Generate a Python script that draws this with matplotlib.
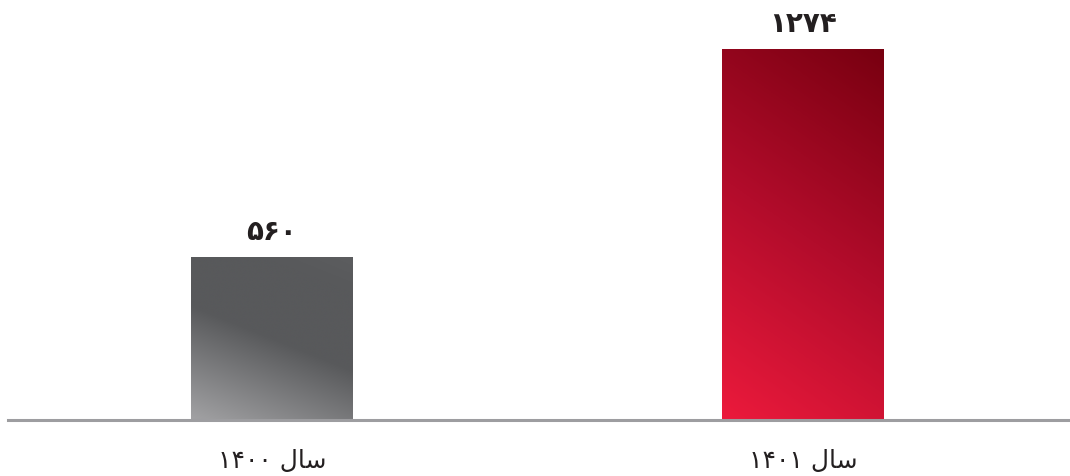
import numpy as np
import matplotlib
matplotlib.use("Agg")
import matplotlib.pyplot as plt
from matplotlib.colors import LinearSegmentedColormap

# Data
categories = ["\u06F1\u06F4\u06F0\u06F0 \uFEDD\uFE8E\uFEB3",   # سال ۱۴۰۰ (visual order, shaped)
              "\u06F1\u06F4\u06F0\u06F1 \uFEDD\uFE8E\uFEB3"]   # سال ۱۴۰۱
values = [560, 1274]
value_labels = ["\u06F5\u06F6\u06F0", "\u06F1\u06F2\u06F7\u06F4"]
gradient_stops = [
    [(0.0, "#a2a2a4"), (0.5, "#58595b"), (0.85, "#58595b"), (1.0, "#5c5d5f")],
    [(0.0, "#ec1a3c"), (0.5, "#b20c2b"), (1.0, "#780010")],
]
gradient_slant = [0.4, 0.7]

plt.rcParams['font.family'] = ['DejaVu Sans']

fig = plt.figure(figsize=(10.70, 4.77), dpi=100)
ax = fig.add_axes([8 / 1070, (477 - 421) / 477, 1062 / 1070, 421 / 477])
ax.set_xlim(-0.497, 1.503)
ax.set_ylim(0, 1274 * 421 / 371)

x = np.arange(len(values))
width = 0.305
bars = ax.bar(x, values, width=width, color="none", edgecolor="none")

fig.canvas.draw()
for b, stops, a in zip(bars, gradient_stops, gradient_slant):
    cmap = LinearSegmentedColormap.from_list("g", stops)
    x0, y0 = b.get_x(), b.get_y()
    w, h = b.get_width(), b.get_height()
    # size of the bar in pixels, so the diagonal gradient is in screen space
    p0 = ax.transData.transform((x0, y0))
    p1 = ax.transData.transform((x0 + w, y0 + h))
    W, H = p1[0] - p0[0], p1[1] - p0[1]
    gy, gx = np.mgrid[0:H:300j, 0:W:300j]
    t = a * gx + gy
    t = t / t.max()
    im = ax.imshow(t, cmap=cmap, origin="lower", aspect="auto", vmin=0, vmax=1,
                   extent=[x0, x0 + w, y0, y0 + h], zorder=2, interpolation="bilinear")
    im.set_clip_path(b)

for xi, v, lab in zip(x, values, value_labels):
    ax.annotate(lab, (xi, v), xytext=(0, 19), textcoords="offset points",
                ha="center", va="center", fontsize=20, fontweight="bold", color="#231f20")

ax.set_xlim(-0.497, 1.503)
for s in ["top", "right", "left"]:
    ax.spines[s].set_visible(False)
ax.spines["bottom"].set_color("#9d9da0")
ax.spines["bottom"].set_linewidth(2.2)
ax.set_yticks([])
ax.set_xticks(x)
ax.set_xticklabels(categories, fontsize=18, color="#231f20")
ax.tick_params(axis="x", length=0, pad=20)

fig.savefig("out.png", dpi=100)
